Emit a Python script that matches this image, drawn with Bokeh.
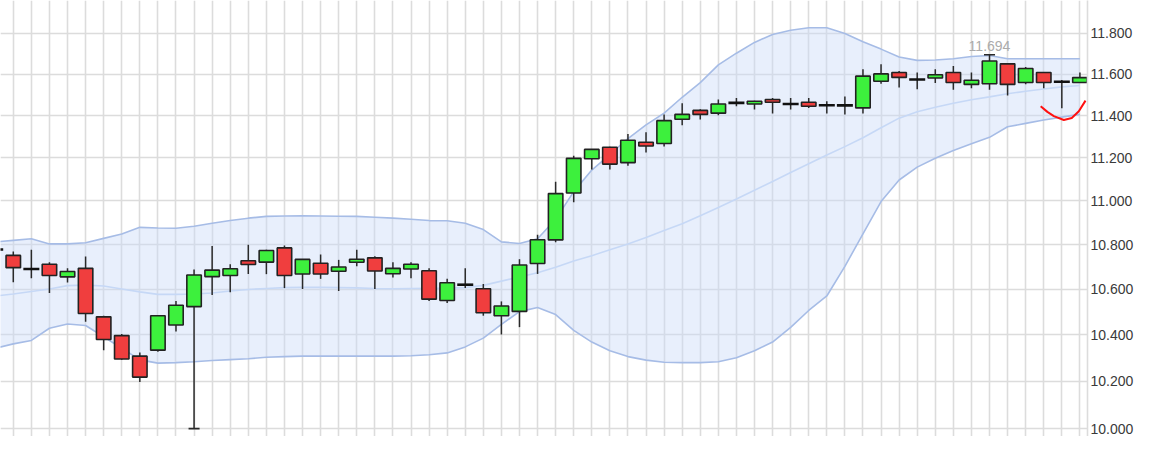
from bokeh.plotting import figure
from bokeh.models import Range1d, FixedTicker, PrintfTickFormatter, ColumnDataSource
from bokeh.embed import file_html
from bokeh.resources import INLINE
from bokeh.core.properties import value

# ---------------- data ----------------
idx = list(range(61))

opens = [10.779, 10.752, 10.691, 10.712, 10.656, 10.694, 10.479, 10.397, 10.308, 10.334,
         10.443, 10.524, 10.657, 10.662, 10.728, 10.722, 10.786, 10.669, 10.717, 10.681,
         10.721, 10.741, 10.670, 10.691, 10.683, 10.551, 10.621, 10.603, 10.484, 10.503,
         10.716, 10.822, 11.037, 11.196, 11.250, 11.178, 11.274, 11.268, 11.383, 11.425,
         11.412, 11.461, 11.456, 11.477, 11.456, 11.464, 11.450, 11.449, 11.437, 11.565,
         11.608, 11.574, 11.581, 11.608, 11.550, 11.553, 11.650, 11.559, 11.608, 11.563,
         11.559]
highs = [10.830, 10.770, 10.778, 10.721, 10.694, 10.747, 10.484, 10.404, 10.324, 10.485,
         10.549, 10.689, 10.794, 10.712, 10.800, 10.777, 10.797, 10.736, 10.756, 10.732,
         10.778, 10.748, 10.721, 10.721, 10.694, 10.647, 10.694, 10.624, 10.547, 10.735,
         10.845, 11.089, 11.210, 11.242, 11.253, 11.313, 11.321, 11.406, 11.459, 11.431,
         11.477, 11.485, 11.471, 11.485, 11.485, 11.485, 11.469, 11.492, 11.624, 11.648,
         11.615, 11.608, 11.624, 11.639, 11.608, 11.694, 11.651, 11.635, 11.609, 11.571,
         11.608]
lows = [10.745, 10.632, 10.650, 10.584, 10.631, 10.458, 10.334, 10.293, 10.197, 10.327,
        10.415, 10.000, 10.575, 10.587, 10.669, 10.668, 10.606, 10.602, 10.647, 10.593,
        10.703, 10.602, 10.653, 10.650, 10.549, 10.540, 10.606, 10.484, 10.402, 10.434,
        10.669, 10.812, 10.994, 11.146, 11.146, 11.163, 11.226, 11.254, 11.354, 11.381,
        11.402, 11.445, 11.429, 11.410, 11.429, 11.437, 11.410, 11.406, 11.410, 11.553,
        11.535, 11.527, 11.557, 11.524, 11.532, 11.524, 11.497, 11.551, 11.532, 11.435,
        11.558]
closes = [10.779, 10.697, 10.691, 10.662, 10.680, 10.494, 10.380, 10.296, 10.218, 10.484,
          10.530, 10.664, 10.686, 10.692, 10.711, 10.774, 10.662, 10.734, 10.669, 10.700,
          10.735, 10.682, 10.694, 10.712, 10.557, 10.630, 10.621, 10.497, 10.527, 10.709,
          10.823, 11.034, 11.198, 11.240, 11.171, 11.283, 11.256, 11.376, 11.406, 11.406,
          11.456, 11.461, 11.469, 11.464, 11.456, 11.445, 11.450, 11.449, 11.590, 11.601,
          11.584, 11.574, 11.597, 11.559, 11.570, 11.664, 11.550, 11.627, 11.559, 11.563,
          11.583]

bb_upper = [10.813, 10.820, 10.827, 10.804, 10.804, 10.809, 10.829, 10.849, 10.879, 10.876,
            10.875, 10.884, 10.898, 10.910, 10.921, 10.929, 10.931, 10.932, 10.931, 10.930,
            10.929, 10.925, 10.921, 10.916, 10.910, 10.909, 10.898, 10.869, 10.813, 10.806,
            10.827, 10.916, 11.043, 11.143, 11.216, 11.291, 11.356, 11.412, 11.488, 11.559,
            11.645, 11.702, 11.755, 11.794, 11.815, 11.827, 11.827, 11.799, 11.758, 11.722,
            11.683, 11.667, 11.669, 11.675, 11.686, 11.691, 11.675, 11.675, 11.675, 11.675,
            11.675]
bb_middle = [10.571, 10.580, 10.591, 10.602, 10.617, 10.619, 10.615, 10.602, 10.589, 10.578,
             10.578, 10.580, 10.584, 10.593, 10.600, 10.604, 10.608, 10.609, 10.609, 10.608,
             10.607, 10.604, 10.603, 10.604, 10.605, 10.606, 10.608, 10.618, 10.637, 10.655,
             10.674, 10.699, 10.727, 10.751, 10.778, 10.804, 10.833, 10.865, 10.896, 10.932,
             10.970, 11.009, 11.049, 11.090, 11.132, 11.173, 11.214, 11.253, 11.295, 11.342,
             11.388, 11.419, 11.440, 11.459, 11.476, 11.490, 11.505, 11.517, 11.528, 11.538,
             11.545]
bb_lower = [10.342, 10.361, 10.376, 10.429, 10.448, 10.441, 10.392, 10.342, 10.292, 10.278,
            10.280, 10.284, 10.289, 10.293, 10.297, 10.303, 10.306, 10.308, 10.308, 10.308,
            10.308, 10.308, 10.308, 10.310, 10.314, 10.322, 10.348, 10.386, 10.446, 10.502,
            10.520, 10.489, 10.420, 10.369, 10.331, 10.306, 10.291, 10.282, 10.280, 10.280,
            10.284, 10.301, 10.331, 10.369, 10.433, 10.507, 10.571, 10.703, 10.849, 10.997,
            11.097, 11.157, 11.198, 11.235, 11.267, 11.297, 11.347, 11.363, 11.379, 11.393,
            11.406]

y_ticks = [10.0, 10.2, 10.4, 10.6, 10.8, 11.0, 11.2, 11.4, 11.6, 11.8, 12.0]

# hand-drawn red annotation under the last candles
mark_x = [57.83, 58.2, 58.56, 59.11, 59.55, 59.94, 60.31]
mark_y = [11.445, 11.418, 11.398, 11.379, 11.389, 11.421, 11.472]

# ---------------- split candles ----------------
def pick(cond):
    d = dict(x=[], top=[], bottom=[], y=[])
    for i, o, c in zip(idx, opens, closes):
        if cond(o, c):
            d["x"].append(i)
            d["top"].append(max(o, c))
            d["bottom"].append(min(o, c))
            d["y"].append(c)
    return ColumnDataSource(d)

up_src = pick(lambda o, c: c > o)
down_src = pick(lambda o, c: c < o)
doji_src = pick(lambda o, c: c == o)

i_max = max(idx, key=lambda i: highs[i])
i_min = min(idx, key=lambda i: lows[i])

# ---------------- figure ----------------
p = figure(width=1136, height=436, y_axis_type="log",
           x_axis_location=None, y_axis_location="right",
           x_range=Range1d(0.293, 60.42), y_range=Range1d(9.967, 11.963),
           output_backend="svg", toolbar_location=None,
           min_border_left=0, min_border_right=48, min_border_top=0, min_border_bottom=0)
p.outline_line_color = None
p.background_fill_color = "white"
p.border_fill_color = "white"

p.xgrid.ticker = FixedTicker(ticks=idx)
p.yaxis.ticker = FixedTicker(ticks=y_ticks)
p.ygrid.ticker = FixedTicker(ticks=y_ticks)
for g in (p.xgrid[0], p.ygrid[0]):
    g.grid_line_color = "#dcdcdc"
    g.grid_line_width = 1.6

ax = p.yaxis[0]
ax.formatter = PrintfTickFormatter(format="%.3f")
ax.major_tick_out = 0
ax.major_tick_in = 0
ax.minor_tick_out = 0
ax.minor_tick_in = 0
ax.major_label_standoff = 3
ax.axis_line_color = "#dcdcdc"
ax.axis_line_width = 1.6
ax.major_label_text_font = "Liberation Sans"
ax.major_label_text_font_size = "14px"
ax.major_label_text_color = "#3a3a3a"

# Bollinger band
p.varea(x=idx, y1=bb_lower, y2=bb_upper, fill_color="#c8d8f8", fill_alpha=0.42)
p.line(idx, bb_middle, line_color="#c6d8f6", line_width=1.6)
p.line(idx, bb_upper, line_color="#a6bce6", line_width=1.6)
p.line(idx, bb_lower, line_color="#a6bce6", line_width=1.6)

# wicks
p.segment(x0=idx, y0=lows, x1=idx, y1=highs, line_color="#2a2a2a", line_width=1.5)

# bodies
p.vbar(x="x", width=0.8, top="top", bottom="bottom", source=up_src,
       fill_color="#3df03d", line_color="#222222", line_width=1.6)
p.vbar(x="x", width=0.8, top="top", bottom="bottom", source=down_src,
       fill_color="#f03e3e", line_color="#222222", line_width=1.6)
p.scatter(x="x", y="y", source=doji_src, marker="dash", size=16,
          line_color="#111111", line_width=2.6)

# caps on extreme wicks
p.scatter(x=[i_max, i_min], y=[highs[i_max], lows[i_min]], marker="dash", size=11,
          line_color="#2a2a2a", line_width=1.6)

# max label
p.text(x=[i_max], y=[highs[i_max]], text=["%.3f" % highs[i_max]],
       text_align="center", text_baseline="bottom", y_offset=-4,
       text_font=value("Liberation Sans"), text_font_size="14px", text_color="#ababab")

# red annotation
p.line(mark_x, mark_y, line_color="#ff1010", line_width=2, line_join="round")

open("out.html", "w").write(file_html(p, INLINE))
